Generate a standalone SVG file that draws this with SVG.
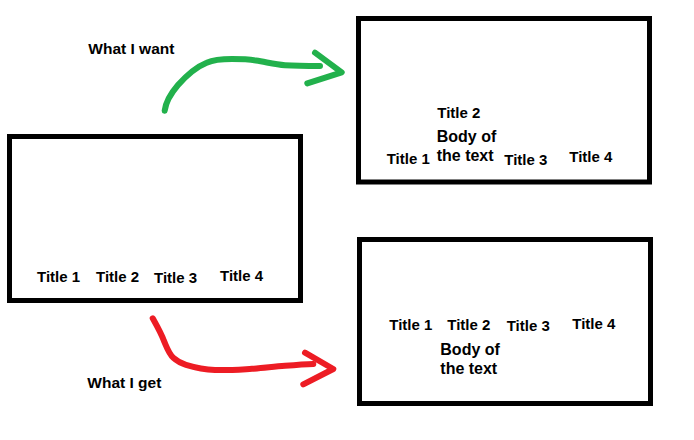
<svg xmlns="http://www.w3.org/2000/svg" width="694" height="440" viewBox="0 0 694 440">
<style>
.box{fill:#fff;stroke:#000;stroke-width:5}
.t{font-family:"Liberation Sans",Arial,sans-serif;font-weight:bold;font-size:15px;fill:#000}
.b{font-family:"Liberation Sans",Arial,sans-serif;font-weight:bold;font-size:16px;fill:#000}
.lbl{font-family:"Liberation Sans",Arial,sans-serif;font-weight:bold;font-size:15.5px;fill:#000}
.g{fill:none;stroke:#22b14c;stroke-width:6;stroke-linecap:round;stroke-linejoin:round}
.r{fill:none;stroke:#ed1c24;stroke-width:6;stroke-linecap:round;stroke-linejoin:round}
</style>
<rect width="694" height="440" fill="#fff"/>
<g id="source">
<rect class="box" x="9.5" y="136.5" width="291" height="164"/>
<text class="t" x="37" y="282">Title 1</text>
<text class="t" x="96" y="282">Title 2</text>
<text class="t" x="154" y="283.3">Title 3</text>
<text class="t" x="220" y="280.7">Title 4</text>
</g>
<g id="want">
<rect class="box" x="358.5" y="18.5" width="291" height="163.5"/>
<text class="t" x="437.3" y="117.7">Title 2</text>
<text class="b" x="436.7" y="141.7">Body of</text>
<text class="b" x="436.7" y="161">the text</text>
<text class="t" x="386.7" y="164">Title 1</text>
<text class="t" x="504.3" y="164.7">Title 3</text>
<text class="t" x="569.3" y="162.3">Title 4</text>
</g>
<g id="get">
<rect class="box" x="359.5" y="239.5" width="291" height="164"/>
<text class="t" x="389.3" y="329.7">Title 1</text>
<text class="t" x="447.3" y="329.7">Title 2</text>
<text class="t" x="506.7" y="331">Title 3</text>
<text class="t" x="572.3" y="328.7">Title 4</text>
<text class="b" x="440.3" y="355">Body of</text>
<text class="b" x="440.3" y="373.7">the text</text>
</g>
<g id="labels">
<text class="lbl" x="88.3" y="54.3">What I want</text>
<text class="lbl" x="87.3" y="388.3">What I get</text>
</g>
<g id="connectors">
<path class="g" d="M164.7,110.7 C166,100 172,92 178,85 C186,76 196,67 206.7,62.7 C214,59.5 220,59 232,59 C242,59 248,59.2 256,60.5 C266,62 275,64.5 285,65.2 C297,66 308,66 320,66"/>
<path class="g" d="M315,52.7 L341.7,72.3 L307.3,83.3"/>
<path class="r" d="M152.7,318.3 C157,326 161,333 164,341 C167,348 169,354 173.3,357.7 C177,361 180,363 186,364.8 C195,367.5 204,369.5 215,370 C228,370.5 240,369.5 252,368.8 C264,368 274,366.5 285,365.8 C295,365 304,364.3 313.3,364"/>
<path class="r" d="M305,352.7 L333.3,369 L303.3,384.3"/>
</g>
</svg>
